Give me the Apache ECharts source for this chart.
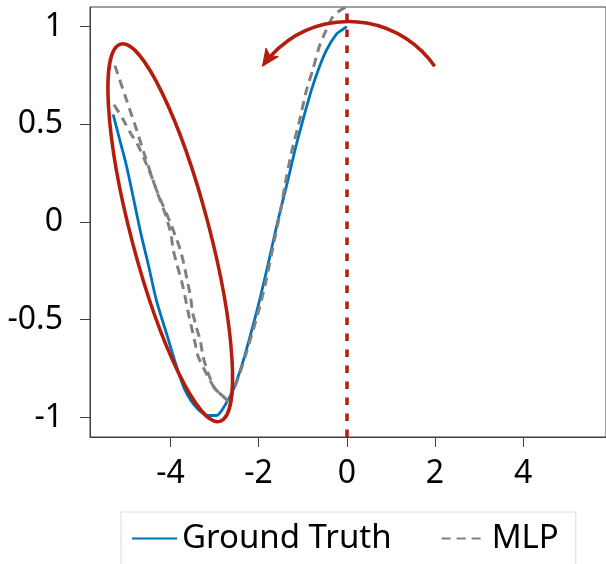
<!DOCTYPE html>
<html>
<head>
<meta charset="utf-8">
<script src="https://cdn.jsdelivr.net/npm/echarts@6/dist/echarts.min.js"></script>
<style>
  html, body { margin: 0; padding: 0; background: #fff; }
  #grafica { width: 606px; height: 564px; }
</style>
</head>
<body>
<div id="grafica"></div>
<script>
// Datos
var xTicks = [-4, -2, 0, 2, 4];
var yTicks = [-1, -0.5, 0, 0.5, 1];

// Ground Truth (x, y)
var gtX = [-5.3, -5.15, -5.0, -4.81, -4.66, -4.5, -4.32, -4.09, -3.86, -3.67, -3.41, -3.15, -2.96, -2.77, -2.58, -2.39, -2.2, -2.0, -1.8, -1.57, -1.34, -1.15, -0.96, -0.81, -0.66, -0.47, -0.24, -0.09, 0.0];
var gtY = [0.55, 0.42, 0.29, 0.09, -0.07, -0.22, -0.40, -0.57, -0.74, -0.86, -0.95, -0.99, -0.99, -0.94, -0.86, -0.74, -0.59, -0.42, -0.23, 0.0, 0.21, 0.39, 0.55, 0.67, 0.77, 0.875, 0.96, 0.985, 1.0];

// MLP, primera trayectoria (incluye la rama derecha)
var mlpAX = [-5.26, -4.99, -4.78, -4.56, -4.315, -4.10, -3.99, -3.94, -3.85, -3.75, -3.67, -3.60, -3.52, -3.45, -3.37, -3.22, -3.0, -2.77, -2.68, -2.60, -2.45, -2.28, -2.12, -1.97, -1.82, -1.64, -1.50, -1.41, -1.26, -1.07, -0.92, -0.77, -0.62, -0.47, -0.32, -0.14, -0.02, 0.05];
var mlpAY = [0.80, 0.62, 0.48, 0.325, 0.16, 0.03, -0.06, -0.14, -0.22, -0.30, -0.38, -0.46, -0.54, -0.61, -0.69, -0.76, -0.85, -0.90, -0.92, -0.88, -0.79, -0.67, -0.55, -0.43, -0.29, -0.09, 0.06, 0.18, 0.35, 0.52, 0.67, 0.78, 0.90, 0.98, 1.05, 1.085, 1.10, 1.13];

// MLP, segunda trayectoria (solo la rama izquierda)
var mlpBX = [-5.28, -5.085, -4.92, -4.73, -4.60, -4.44, -4.31, -4.17, -4.01, -3.89, -3.78, -3.69, -3.62, -3.545, -3.50, -3.41, -3.32, -3.26, -3.15, -3.0, -2.77, -2.68];
var mlpBY = [0.60, 0.53, 0.46, 0.39, 0.325, 0.24, 0.16, 0.085, 0.0, -0.07, -0.14, -0.22, -0.30, -0.38, -0.46, -0.54, -0.61, -0.69, -0.77, -0.85, -0.90, -0.92];

// Anotaciones: extremos de la elipse y centro / tope del arco
var elipseExtremos = [-5.13, 0.91, -2.88, -1.02];
var arcoCentro = [0.04, 0.488];
var arcoTope = [0.04, 1.026];
var lineaVertical = [0];

var rojo = '#b41c0c';
var fuente = 'Noto Sans';

function pares(xs, ys) {
  return xs.map(function (x, i) { return [x, ys[i]]; });
}

// Elipse roja (medio ancho en píxeles)
function renderElipse(params, api) {
  var p1 = api.coord([api.value(0), api.value(1)]);
  var p2 = api.coord([api.value(2), api.value(3)]);
  var cx = (p1[0] + p2[0]) / 2;
  var cy = (p1[1] + p2[1]) / 2;
  var dx = p1[0] - cx;
  var dy = p1[1] - cy;
  var a = Math.sqrt(dx * dx + dy * dy);
  return {
    type: 'ellipse',
    x: cx,
    y: cy,
    rotation: Math.atan2(-dx, -dy),
    shape: { cx: 0, cy: 0, rx: 39, ry: a },
    style: { fill: 'none', stroke: rojo, lineWidth: 3.5 }
  };
}

// Arco con flecha
function renderArco(params, api) {
  var c = api.coord([api.value(0), api.value(1)]);
  var t = api.coord([api.value(2), api.value(3)]);
  var r = Math.sqrt(Math.pow(t[0] - c[0], 2) + Math.pow(t[1] - c[1], 2));
  var phi = 145 * Math.PI / 180;
  var tip = [c[0] + r * Math.cos(phi), c[1] - r * Math.sin(phi)];
  var d = [-Math.sin(phi), -Math.cos(phi)];
  var n = [-d[1], d[0]];
  var L = 17, w = 7.5;
  var base = [tip[0] - L * d[0], tip[1] - L * d[1]];
  var notch = [tip[0] - (L - 4) * d[0], tip[1] - (L - 4) * d[1]];
  return {
    type: 'group',
    children: [
      {
        type: 'arc',
        shape: { cx: c[0], cy: c[1], r: r, startAngle: -35 * Math.PI / 180, endAngle: -139 * Math.PI / 180, clockwise: false },
        style: { fill: 'none', stroke: rojo, lineWidth: 3.5 }
      },
      {
        type: 'polygon',
        shape: { points: [tip, [base[0] + w * n[0], base[1] + w * n[1]], notch, [base[0] - w * n[0], base[1] - w * n[1]]] },
        style: { fill: rojo, stroke: rojo, lineWidth: 1 }
      }
    ]
  };
}

var chart = echarts.init(document.getElementById('grafica'));

var option = {
  animation: false,
  backgroundColor: '#fff',
  grid: {
    left: 90, right: -1, top: 7, bottom: 127,
    show: true, borderColor: '#404040', borderWidth: 1
  },
  legend: {
    data: ['Ground Truth', 'MLP'],
    left: 121, top: 512,
    padding: [10, 17, 30, 10],
    borderColor: '#dcdcdc', borderWidth: 1,
    itemWidth: 45, itemHeight: 20, itemGap: 49,
    itemStyle: { opacity: 0 },
    textStyle: { fontFamily: fuente, fontSize: 33, color: '#000' }
  },
  xAxis: {
    type: 'value',
    min: -5.825, max: 5.88,
    splitLine: { show: false },
    axisLine: { onZero: false, lineStyle: { color: '#404040', width: 1 } },
    axisTick: { show: true, inside: false, length: 10, customValues: xTicks, lineStyle: { color: '#404040' } },
    axisLabel: { customValues: xTicks, margin: 21, fontFamily: fuente, fontSize: 32, color: '#000' }
  },
  yAxis: {
    type: 'value',
    min: -1.1, max: 1.1,
    splitLine: { show: false },
    axisLine: { show: true, onZero: false, lineStyle: { color: '#404040', width: 1 } },
    axisTick: { show: true, inside: false, length: 10, customValues: yTicks, lineStyle: { color: '#404040' } },
    axisLabel: { customValues: yTicks, margin: 27, fontFamily: fuente, fontSize: 32, color: '#000' }
  },
  series: [
    {
      name: 'Ground Truth',
      type: 'line',
      data: pares(gtX, gtY),
      smooth: 0.3,
      symbol: 'none',
      lineStyle: { color: '#0072bd', width: 2.8 },
      itemStyle: { color: '#0072bd', opacity: 0 },
      z: 2
    },
    {
      name: 'MLP',
      type: 'line',
      data: pares(mlpAX, mlpAY),
      smooth: 0.2,
      symbol: 'none',
      lineStyle: { color: '#808080', width: 3, type: [9, 6] },
      itemStyle: { color: '#808080', opacity: 0 },
      z: 3
    },
    {
      name: 'MLP',
      type: 'line',
      data: pares(mlpBX, mlpBY),
      smooth: 0.2,
      symbol: 'none',
      lineStyle: { color: '#808080', width: 3, type: [9, 6] },
      itemStyle: { color: '#808080', opacity: 0 },
      z: 3,
      markLine: {
        silent: true,
        symbol: 'none',
        label: { show: false },
        lineStyle: { color: rojo, width: 3.5, type: [7.5, 8.5], opacity: 1 },
        data: lineaVertical.map(function (v) { return { xAxis: v }; })
      }
    },
    {
      name: 'elipse',
      type: 'custom',
      renderItem: renderElipse,
      data: [elipseExtremos],
      encode: { x: [0, 2], y: [1, 3] },
      z: 4
    },
    {
      name: 'arco',
      type: 'custom',
      renderItem: renderArco,
      data: [[arcoCentro[0], arcoCentro[1], arcoTope[0], arcoTope[1]]],
      encode: { x: [0, 2], y: [1, 3] },
      z: 4
    }
  ]
};

chart.setOption(option);
</script>
</body>
</html>
